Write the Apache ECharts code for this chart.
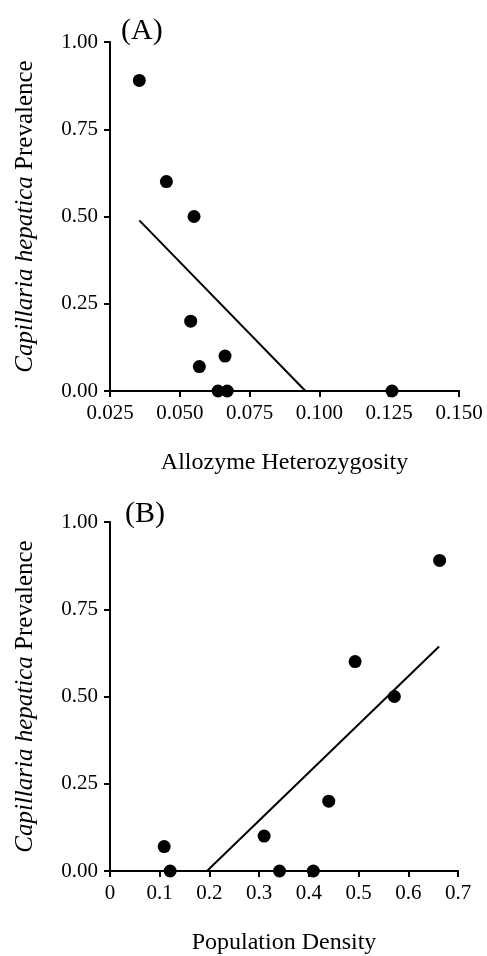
<!DOCTYPE html>
<html>
<head>
<meta charset="utf-8">
<script src="https://cdn.jsdelivr.net/npm/echarts@6/dist/echarts.min.js"></script>
<style>
  html, body { margin: 0; padding: 0; background: #fff; }
  #main { width: 487px; height: 956px; }
</style>
</head>
<body>
<div id="main"></div>
<script>
// panel A: allozyme heterozygosity vs prevalence
var heteroX = [0.0355, 0.0452, 0.0551, 0.0539, 0.0570, 0.0662, 0.0637, 0.0670, 0.126];
var heteroY = [0.89, 0.60, 0.50, 0.20, 0.07, 0.10, 0, 0, 0];
var heteroFitX = [0.0355, 0.095];
var heteroFitY = [0.489, 0];

// panel B: population density vs prevalence
var densX = [0.109, 0.121, 0.310, 0.341, 0.409, 0.440, 0.493, 0.572, 0.663];
var densY = [0.07, 0, 0.10, 0, 0, 0.20, 0.60, 0.50, 0.89];
var densFitX = [0.195, 0.662];
var densFitY = [0, 0.643];

var heteroTicks = ['0.025', '0.050', '0.075', '0.100', '0.125', '0.150'];
var densTicks = ['0', '0.1', '0.2', '0.3', '0.4', '0.5', '0.6', '0.7'];
var prevTicks = ['0.00', '0.25', '0.50', '0.75', '1.00'];

var FONT = '"Liberation Serif", "DejaVu Serif", serif';

function pairs(xs, ys) {
  var out = [];
  for (var i = 0; i < xs.length; i++) {
    out.push([xs[i], ys[i]]);
  }
  return out;
}

function axisBase() {
  return {
    axisLine: { show: true, onZero: false, lineStyle: { color: '#000', width: 2 } },
    axisTick: { show: true, length: 6, lineStyle: { color: '#000', width: 2 } },
    splitLine: { show: false },
    axisLabel: { color: '#000', fontFamily: FONT, fontSize: 21 },
    nameTextStyle: { color: '#000', fontFamily: FONT, fontSize: 24 }
  };
}

function xAxisFor(idx, min, max, step, ticks, name) {
  var a = axisBase();
  a.type = 'value';
  a.gridIndex = idx;
  a.min = min;
  a.max = max;
  a.interval = step;
  a.name = name;
  a.nameLocation = 'middle';
  a.nameGap = 60;
  a.axisLabel.margin = 12;
  a.axisLabel.formatter = function(v) {
    return ticks[Math.round((v - min) / step)];
  };
  return a;
}

function yAxisFor(idx) {
  var a = axisBase();
  a.type = 'value';
  a.gridIndex = idx;
  a.min = 0;
  a.max = 1;
  a.interval = 0.25;
  a.name = '{i|Capillaria hepatica} Prevalence';
  a.nameLocation = 'middle';
  a.nameGap = 72;
  a.nameRotate = 90;
  a.nameTextStyle.fontSize = 25;
  a.nameTextStyle.rich = {
    i: { fontStyle: 'italic', fontFamily: FONT, fontSize: 25, color: '#000' }
  };
  a.axisLabel.margin = 12;
  a.axisLabel.formatter = function(v) {
    return prevTicks[Math.round(v / 0.25)];
  };
  return a;
}

var myChart = echarts.init(document.getElementById('main'));

var dot = { color: '#000', opacity: 1 };

var option = {
  backgroundColor: '#fff',
  animation: false,
  title: [
    { text: '(A)', left: 116, top: 11, textStyle: { fontFamily: FONT, fontSize: 30, fontWeight: 'normal', color: '#000' } },
    { text: '(B)', left: 120, top: 494, textStyle: { fontFamily: FONT, fontSize: 30, fontWeight: 'normal', color: '#000' } }
  ],
  grid: [
    { left: 110, top: 42, width: 349, height: 349 },
    { left: 110, top: 522, width: 348, height: 349 }
  ],
  xAxis: [
    xAxisFor(0, 0.025, 0.15, 0.025, heteroTicks, 'Allozyme Heterozygosity'),
    xAxisFor(1, 0, 0.7, 0.1, densTicks, 'Population Density')
  ],
  yAxis: [yAxisFor(0), yAxisFor(1)],
  series: [
    {
      type: 'line', xAxisIndex: 0, yAxisIndex: 0,
      data: pairs(heteroFitX, heteroFitY),
      symbol: 'none', lineStyle: { color: '#000', width: 2 }, z: 2
    },
    {
      type: 'scatter', xAxisIndex: 0, yAxisIndex: 0,
      data: pairs(heteroX, heteroY),
      symbolSize: 13, itemStyle: dot, z: 3
    },
    {
      type: 'line', xAxisIndex: 1, yAxisIndex: 1,
      data: pairs(densFitX, densFitY),
      symbol: 'none', lineStyle: { color: '#000', width: 2 }, z: 2
    },
    {
      type: 'scatter', xAxisIndex: 1, yAxisIndex: 1,
      data: pairs(densX, densY),
      symbolSize: 13, itemStyle: dot, z: 3
    }
  ]
};

myChart.setOption(option);
</script>
</body>
</html>
